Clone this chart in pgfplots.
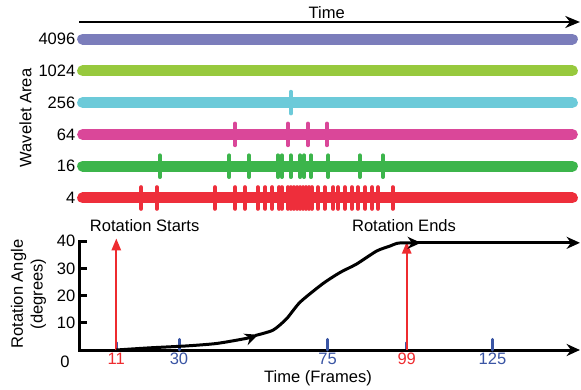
\documentclass[border=0pt]{standalone}
\usepackage{fontspec}
\setmainfont{Liberation Sans}
\usepackage{pgfplots}
\pgfplotsset{compat=1.18}
\usetikzlibrary{arrows.meta}
\definecolor{cpurple}{HTML}{7B7DBB}
\definecolor{clime}{HTML}{97C93D}
\definecolor{ccyan}{HTML}{6CCAD9}
\definecolor{cmag}{HTML}{DA4799}
\definecolor{cgreen}{HTML}{3CB54B}
\definecolor{cred}{HTML}{EE2E3B}
\definecolor{tblue}{HTML}{3A55A4}
\definecolor{ared}{HTML}{EE2B2F}
\begin{document}
\begin{tikzpicture}[font=\fontsize{12.4}{14.9}\selectfont]
% ---------------- bottom axis: rotation angle ----------------
\begin{axis}[
  at={(0,0)}, anchor=south west,
  x=2.475pt, y=2.04pt,
  xmin=0, xmax=151.5, ymin=0, ymax=40,
  axis x line=bottom, axis y line=left,
  x axis line style={line width=2.25pt, -{Stealth[length=10pt,width=9pt]}},
  y axis line style={line width=2.25pt, -, line cap=rect},
  tick align=inside, major tick length=5.6pt,
  xtick={11,99},
  every x tick/.style={tblue, line width=2.25pt, line cap=round},
  every y tick/.style={black, line width=2.25pt},
  xticklabel style={text=ared, yshift=1pt},
  extra x ticks={30,75,125},
  extra x tick style={major tick length=8pt, xticklabel style={text=tblue}},
  ytick={10,20,30,40},
  /pgf/number format/assume math mode=true,
  tick label style={font=\fontsize{12.4}{14.9}\selectfont},
  clip=false,
]
\addplot[ared, line width=1.5pt, -{Triangle[length=9pt,width=7pt]}] coordinates {(11,0) (11,41)};
\addplot[ared, line width=1.5pt, -{Triangle[length=9pt,width=7pt]}] coordinates {(99,0) (99,39.8)};
\addplot[black, line width=2.25pt, smooth, tension=0.4, -{Stealth[length=10pt,width=9pt]}] coordinates {
 (11,0) (21.2,0.8) (32.3,1.5) (41.4,2.4) (50.5,4.3) (54,5.6)};
\addplot[black, line width=2.25pt, smooth, tension=0.4, -{Stealth[length=10pt,width=9pt]}] coordinates {
 (53,5.3) (58.5,7.3) (62.6,11.5) (66.7,17.6) (73.6,24.4) (78.8,28.5) (83.8,31.6)
 (89.9,36.4) (93.9,38.2) (96,39.2) (98,39.4) (103.3,39.4)};
\addplot[black, line width=2.25pt, -{Stealth[length=10pt,width=9pt]}] coordinates {(102,39.4) (151.5,39.4)};
\end{axis}
% ---------------- top axis: wavelet areas ----------------
\begin{axis}[
  at={(0,90.15pt)}, anchor=south west,
  x=2.475pt, y=23.85pt,
  xmin=0, xmax=151.5, ymin=0, ymax=6.6,
  axis line style={draw=none},
  xtick=\empty,
  ytick={1,2,3,4,5,6},
  yticklabels={4,16,64,256,1024,4096},
  major tick length=0pt,
  tick label style={font=\fontsize{12.4}{14.9}\selectfont},
  clip=false,
]
\addplot[cpurple, line width=8.25pt, line cap=round] coordinates {(0.8,6) (149.2,6)};
\addplot[clime, line width=8.25pt, line cap=round] coordinates {(0.8,5) (149.2,5)};
\addplot[ccyan, line width=8.25pt, line cap=round] coordinates {(0.8,4) (149.2,4)};
\addplot[cmag, line width=8.25pt, line cap=round] coordinates {(0.8,3) (149.2,3)};
\addplot[cgreen, line width=8.25pt, line cap=round] coordinates {(0.8,2) (149.2,2)};
\addplot[cred, line width=8.25pt, line cap=round] coordinates {(0.8,1) (149.2,1)};
\addplot[only marks, mark=|, mark size=8.2pt, mark options={ccyan, line width=2.8pt, line cap=round}] coordinates {(63.9,4)};
\addplot[only marks, mark=|, mark size=8.2pt, mark options={cmag, line width=2.8pt, line cap=round}] coordinates {
 (47.0,3) (63.0,3) (69.1,3) (74.8,3)};
\addplot[only marks, mark=|, mark size=8.2pt, mark options={cgreen, line width=2.8pt, line cap=round}] coordinates {
 (24.2,2) (45.2,2) (51.2,2) (60.0,2) (61.2,2) (63.9,2) (66.7,2) (67.9,2) (70.0,2) (75.2,2) (84.8,2) (91.8,2)};
\addplot[only marks, mark=|, mark size=8.2pt, mark options={cred, line width=2.8pt, line cap=round}] coordinates {
 (18.5,1) (23.3,1) (40.9,1) (47.0,1) (50.0,1) (53.9,1) (56.1,1) (58.2,1) (60.3,1) (61.2,1)
 (63.0,1) (63.9,1) (64.8,1) (65.8,1) (66.7,1) (67.6,1) (68.5,1) (69.4,1) (70.3,1) (72.1,1)
 (74.2,1) (76.7,1) (78.2,1) (80.3,1) (82.4,1) (84.2,1) (86.4,1) (88.5,1) (90.3,1) (94.8,1)};
\addplot[black, line width=2pt, -{Stealth[length=11pt,width=9pt]}] coordinates {(-0.3,6.535) (151.5,6.535)};
\end{axis}
% ---------------- labels ----------------
\node[rotate=90] at (-40.9pt,174pt) {Wavelet Area};
\node[rotate=90, align=center] at (-38.6pt,42pt) {Rotation Angle\\(degrees)};
\node at (-11.25pt,-8.5pt) {0};
\node at (178.5pt,-21pt) {Time (Frames)};
\node at (185pt,253pt) {Time};
\node at (48.5pt,93pt) {Rotation Starts};
\node at (243pt,93pt) {Rotation Ends};
\pgfresetboundingbox
\useasboundingbox (-60pt,-29.25pt) rectangle (375.75pt,262.5pt);
\end{tikzpicture}
\end{document}
